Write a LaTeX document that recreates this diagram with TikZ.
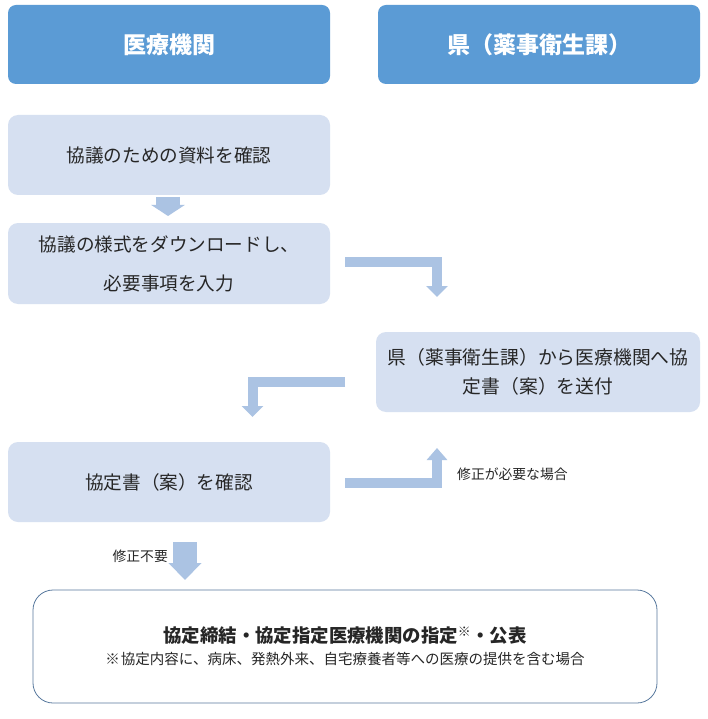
\documentclass[tikz,border=0pt]{standalone}
\usepackage{fontspec}
\setmainfont{Noto Sans CJK JP}
\usetikzlibrary{arrows.meta}
\definecolor{headc}{HTML}{5B9BD5}
\definecolor{lightc}{HTML}{D6E0F1}
\definecolor{arrowc}{HTML}{ABC3E3}
\definecolor{borderc}{HTML}{58799E}
\definecolor{txtc}{HTML}{262626}
\begin{document}
\begin{tikzpicture}[x=1pt,y=-1pt,
  header/.style={fill=headc, rounded corners=8pt, minimum width=322pt, minimum height=79pt,
    text=white, font=\fontsize{23}{28}\selectfont\bfseries, inner sep=0pt},
  lightbox/.style={fill=lightc, rounded corners=10pt, minimum width=322pt, minimum height=80pt,
    text=txtc, font=\fontsize{18.6}{39}\selectfont, align=center, inner sep=0pt},
  blockarrow/.style={draw=arrowc, line width=10pt, -{Triangle[width=21pt,length=11pt]}},
  lbl/.style={text=txtc, font=\fontsize{13.8}{16}\selectfont, inner sep=0pt}
]
\useasboundingbox (0,0) rectangle (708,719);
\fill[white] (0,0) rectangle (708,719);

\node[header] (h1) at (169,44.5) {医療機関};
\node[header] (h2) at (539,44.5) {県（薬事衛生課）};

\node[lightbox] (b1) at (169,155) {協議のための資料を確認};
\node[lightbox, minimum height=81pt] (b2) at (169,263.5) {協議の様式をダウンロードし、\\必要事項を入力};
\node[lightbox, minimum width=324pt, font=\fontsize{18.8}{29}\selectfont] (b3) at (538,372)
  {県（薬事衛生課）から医療機関へ協\\定書（案）を送付};
\node[lightbox] (b4) at (169,482) {協定書（案）を確認};

\node[draw=borderc, line width=0.8pt, rounded corners=20pt, minimum width=624pt, minimum height=113pt,
  align=center, text=txtc, inner sep=0pt, font=\fontsize{14.5}{22}\selectfont] (b5) at (345,646.5)
  {{\fontsize{18.4}{22}\selectfont\bfseries 協定締結・協定指定医療機関の指定\textsuperscript{※}・公表}\\
   \textbf{※}\hspace{1pt}協定内容に、病床、発熱外来、自宅療養者等への医療の提供を含む場合};

% connectors
\coordinate (s0) at (168,197);
\coordinate (e0) at (168,216);
\draw[draw=arrowc, line width=24pt, -{Triangle[width=33pt,length=11pt]}] (s0) -- (e0);

\coordinate (s1) at (345,262);
\coordinate (e1) at (437,297);
\draw[blockarrow] (s1) -| (e1);

\coordinate (s2) at (345,382);
\coordinate (e2) at (252.5,417);
\draw[blockarrow] (s2) -| (e2);

\coordinate (s3) at (345,482.5);
\coordinate (e3) at (437,448);
\draw[blockarrow, -{Triangle[width=20pt,length=12pt]}] (s3) -| (e3);

\coordinate (s4) at (185,542);
\coordinate (e4) at (185,580);
\draw[draw=arrowc, line width=24pt, -{Triangle[width=32pt,length=17pt]}] (s4) -- (e4);

\node[lbl, anchor=west] (l1) at (457,474) {修正が必要な場合};
\node[lbl, anchor=east] (l2) at (168,556) {修正不要};
\end{tikzpicture}
\end{document}
